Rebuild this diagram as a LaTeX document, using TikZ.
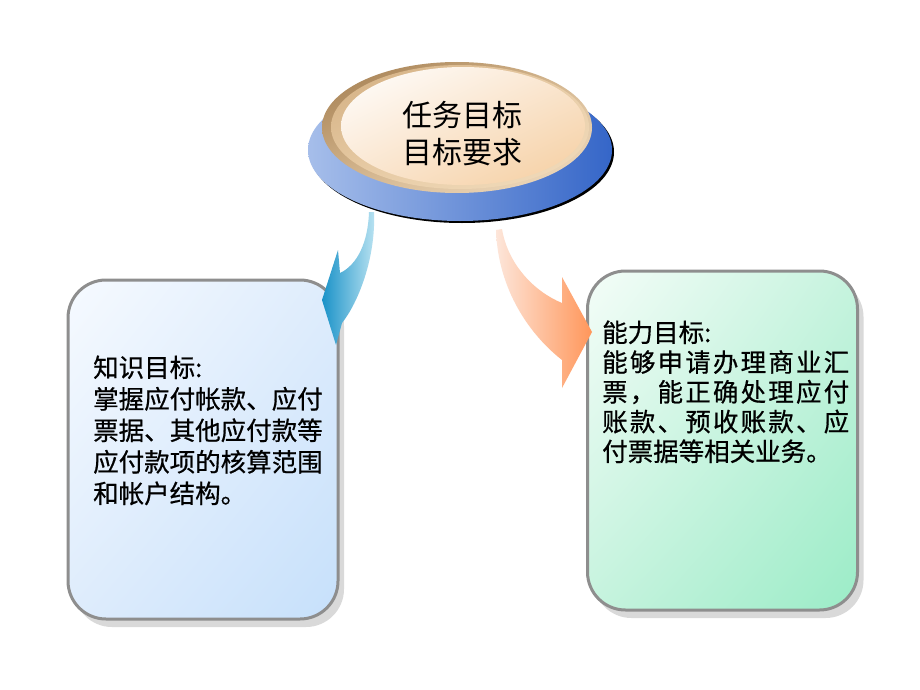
\documentclass[tikz,border=0pt]{standalone}
\usepackage{fontspec}
\newfontfamily\cjk{Noto Sans CJK SC}
\newfontfamily\cjkbody[FakeBold=0.6]{Noto Sans CJK SC}
\usetikzlibrary{shadows,shadings}
\definecolor{boxline}{HTML}{8E8E8E}
\definecolor{shadowc}{HTML}{D9D9D9}
\definecolor{lbA}{HTML}{F6FAFF}
\definecolor{lbM}{HTML}{DEECFC}
\definecolor{lbB}{HTML}{C6E0FB}
\definecolor{rbA}{HTML}{F4FDF8}
\definecolor{rbM}{HTML}{C6F3DE}
\definecolor{rbB}{HTML}{9BECC7}
\definecolor{blueL}{HTML}{A6BEEA}
\definecolor{blueR}{HTML}{3566C8}
\definecolor{tanA}{HTML}{A07A4C}
\definecolor{tanM}{HTML}{D6B890}
\definecolor{tanB}{HTML}{F3E0C6}
\definecolor{tan2A}{HTML}{D2AE80}
\definecolor{tan2M}{HTML}{E8CCA6}
\definecolor{tan2B}{HTML}{F2DDBE}
\definecolor{creamA}{HTML}{FFFFFF}
\definecolor{creamM}{HTML}{FAE6D0}
\definecolor{creamB}{HTML}{F5CD9E}
\definecolor{arrBlueA}{HTML}{1A92C8}
\definecolor{arrBlueB}{HTML}{BCE4F2}
\definecolor{arrOrA}{HTML}{FDE6DA}
\definecolor{arrOrB}{HTML}{FF965A}
\newcommand\spr[2]{\makebox[#1][s]{#2}}
\begin{document}
\begin{tikzpicture}[x=1pt,y=-1pt,
  boxstyle/.style={rounded corners=38pt, draw=boxline, line width=3pt,
    minimum width=270pt, minimum height=339pt, inner sep=0pt,
    general shadow={fill=shadowc, shadow xshift=6pt, shadow yshift=-8pt}},
  bodytext/.style={font=\cjkbody\fontsize{25.5}{#1}\selectfont, anchor=base west,
    inner sep=0pt, text width=262pt, align=left},
  titletext/.style={font=\cjk\fontsize{30}{37}\selectfont, inner sep=0pt, align=center}
]
\useasboundingbox[fill=white] (0,0) rectangle (920,690);

% boxes
\node[boxstyle, upper left=lbA, upper right=lbM, lower left=lbM, lower right=lbB]
  (know) at (203,449.5) {};
\node[boxstyle, upper left=rbA, upper right=rbM, lower left=rbM, lower right=rbB]
  (skill) at (722.5,440.5) {};

% curved arrows
\shade[left color=arrBlueA, right color=arrBlueB]
  (369,212) .. controls (368,243) and (357,265) .. (340,273)
  -- (338,250) -- (322,300) -- (336,345) -- (342,323)
  .. controls (358,303) and (376,258) .. (374,212) -- cycle;
\shade[left color=arrOrA, right color=arrOrB]
  (496,230) .. controls (498,290) and (530,335) .. (562,360)
  -- (562,388) -- (592,332) -- (562,277) -- (562,303)
  .. controls (535,292) and (508,265) .. (502,229) -- cycle;

% top ellipse
\fill[black] (462,152) ellipse [x radius=152pt, y radius=71pt];
\shade[left color=blueL, right color=blueR] (460,150) ellipse [x radius=152pt, y radius=71pt];
\shade[upper left=tanA, upper right=tanM, lower left=tanM, lower right=tanB]
  (457,127.5) ellipse [x radius=135pt, y radius=65.5pt];
\shade[upper left=tan2A, upper right=tan2M, lower left=tan2M, lower right=tan2B]
  (460,127) ellipse [x radius=129pt, y radius=62pt];
\shade[upper left=creamA, upper right=creamM, lower left=creamM, lower right=creamB]
  (463,126) ellipse [x radius=122pt, y radius=59pt];

% texts
\node[titletext] (goal) at (462,133.5) {任务目标\\目标要求};

\node[bodytext=31.5] (knowtext) at (93,377) {知识目标:\\
掌握应付帐款、应付\\
票据、其他应付款等\\
应付款项的核算范围\\
和帐户结构。};

\node[bodytext=29.75] (skilltext) at (602,342) {能力目标:\\
\spr{247pt}{能\hfill 够\hfill 申\hfill 请\hfill 办\hfill 理\hfill 商\hfill 业\hfill 汇}\\
\spr{247pt}{票\hfill ，\hfill 能\hfill 正\hfill 确\hfill 处\hfill 理\hfill 应\hfill 付}\\
\spr{247pt}{账\hfill 款\hfill 、\hfill 预\hfill 收\hfill 账\hfill 款\hfill 、\hfill 应}\\
付票据等相关业务。};
\end{tikzpicture}
\end{document}
